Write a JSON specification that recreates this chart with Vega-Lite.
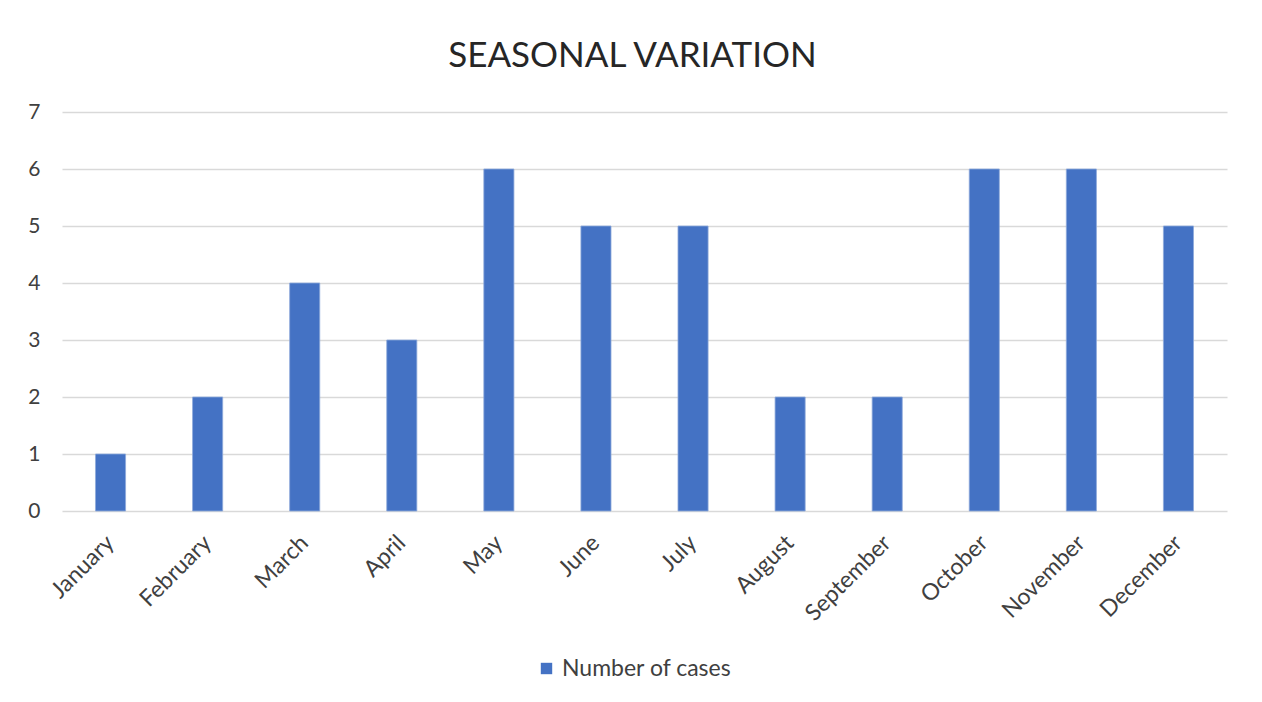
{
  "$schema": "https://vega.github.io/schema/vega-lite/v6.json",
  "width": 1165,
  "height": 399,
  "autosize": {"type": "none"},
  "padding": {"left": 62, "top": 112, "right": 35, "bottom": 191},
  "background": "white",
  "title": {
    "text": "SEASONAL VARIATION",
    "font": "Lato",
    "fontSize": 35,
    "fontWeight": "normal",
    "color": "#262626",
    "anchor": "middle",
    "dx": -12,
    "offset": 27
  },
  "data": {
    "values": [
      {"month": "January", "cases": 1},
      {"month": "February", "cases": 2},
      {"month": "March", "cases": 4},
      {"month": "April", "cases": 3},
      {"month": "May", "cases": 6},
      {"month": "June", "cases": 5},
      {"month": "July", "cases": 5},
      {"month": "August", "cases": 2},
      {"month": "September", "cases": 2},
      {"month": "October", "cases": 6},
      {"month": "November", "cases": 6},
      {"month": "December", "cases": 5}
    ]
  },
  "mark": {"type": "bar", "stroke": "#8eaadb", "strokeWidth": 0.8},
  "encoding": {
    "x": {
      "field": "month",
      "type": "nominal",
      "sort": null,
      "title": null,
      "scale": {"paddingInner": 0.69, "paddingOuter": 0.345},
      "axis": {
        "labelAngle": -45,
        "labelAlign": "right",
        "labelBaseline": "middle",
        "labelPadding": 28,
        "labelFont": "Lato",
        "labelFontSize": 23,
        "labelColor": "#404040",
        "ticks": false,
        "domain": false,
        "grid": false
      }
    },
    "y": {
      "field": "cases",
      "type": "quantitative",
      "title": null,
      "scale": {"domain": [0, 7], "nice": false},
      "axis": {
        "values": [0, 1, 2, 3, 4, 5, 6, 7],
        "labelFont": "Lato",
        "labelFontSize": 21,
        "labelColor": "#404040",
        "labelPadding": 22,
        "ticks": false,
        "domain": false,
        "grid": true,
        "gridColor": "#d9d9d9",
        "gridWidth": 1.5
      }
    },
    "color": {
      "datum": "Number of cases",
      "scale": {"range": ["#4472c4"]},
      "legend": {
        "title": null,
        "orient": "none",
        "legendX": 473,
        "legendY": 545,
        "symbolType": "square",
        "symbolSize": 130,
        "symbolStrokeWidth": 0,
        "labelFont": "Lato",
        "labelFontSize": 23,
        "labelLimit": 400,
        "labelColor": "#404040"
      }
    }
  },
  "config": {"view": {"stroke": null}}
}
